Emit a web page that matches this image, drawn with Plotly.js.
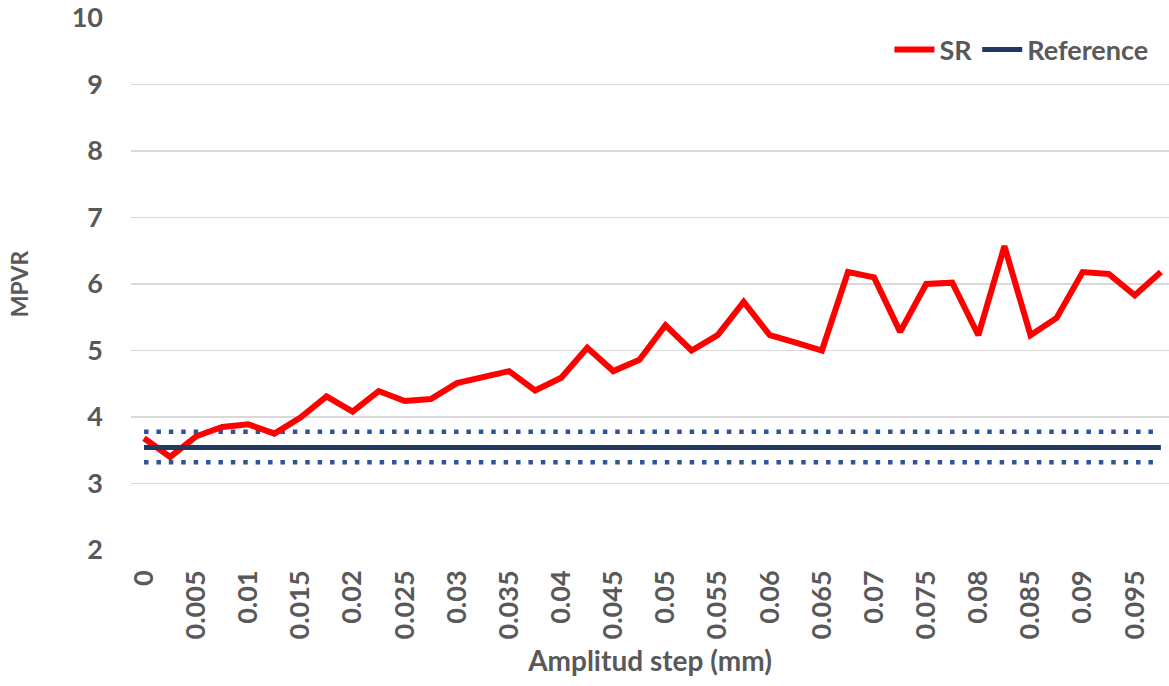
<!DOCTYPE html>
<html>
<head>
<meta charset="utf-8">
<script src="https://cdn.plot.ly/plotly-3.0.1.min.js"></script>
<style>html,body{margin:0;padding:0;background:#fff;}#chart{width:1169px;height:686px;}</style>
</head>
<body>
<div id="chart"></div>
<script>
// Amplitude steps (mm)
var steps = [0, 0.0025, 0.005, 0.0075, 0.01, 0.0125, 0.015, 0.0175, 0.02, 0.0225,
             0.025, 0.0275, 0.03, 0.0325, 0.035, 0.0375, 0.04, 0.0425, 0.045, 0.0475,
             0.05, 0.0525, 0.055, 0.0575, 0.06, 0.0625, 0.065, 0.0675, 0.07, 0.0725,
             0.075, 0.0775, 0.08, 0.0825, 0.085, 0.0875, 0.09, 0.0925, 0.095, 0.0975];
// SR series (MPVR)
var srValues = [3.68, 3.40, 3.71, 3.85, 3.89, 3.75, 3.99, 4.31, 4.08, 4.39,
                4.24, 4.27, 4.51, 4.60, 4.69, 4.40, 4.59, 5.04, 4.69, 4.86,
                5.38, 5.00, 5.23, 5.73, 5.23, 5.12, 5.00, 6.18, 6.10, 5.28,
                6.00, 6.02, 5.23, 6.57, 5.23, 5.49, 6.18, 6.15, 5.83, 6.18];
// Reference level and its band
var refValue = 3.54;
var refUpper = 3.78;
var refLower = 3.32;
// Tick labels
var tickVals = [0, 0.005, 0.01, 0.015, 0.02, 0.025, 0.03, 0.035, 0.04, 0.045,
                0.05, 0.055, 0.06, 0.065, 0.07, 0.075, 0.08, 0.085, 0.09, 0.095];
var tickText = ["0", "0.005", "0.01", "0.015", "0.02", "0.025", "0.03", "0.035", "0.04", "0.045",
                "0.05", "0.055", "0.06", "0.065", "0.07", "0.075", "0.08", "0.085", "0.09", "0.095"];
var yTicks = [2, 3, 4, 5, 6, 7, 8, 9, 10];

var refLine = steps.map(function(){ return refValue; });
var upLine = steps.map(function(){ return refUpper; });
var loLine = steps.map(function(){ return refLower; });

var FONT = "Lato, 'Open Sans', sans-serif";
var GREY = "#595959";

var traces = [
  {x: steps, y: upLine, mode: "lines", showlegend: false, hoverinfo: "skip",
   line: {color: "#2F5597", width: 4.5, dash: "4.5px,7.9px"}},
  {x: steps, y: loLine, mode: "lines", showlegend: false, hoverinfo: "skip",
   line: {color: "#2F5597", width: 4.5, dash: "4.5px,7.9px"}},
  {x: steps, y: srValues, mode: "lines", name: "SR",
   line: {color: "#FF0000", width: 6, shape: "linear"}},
  {x: steps, y: refLine, mode: "lines", name: "Reference",
   line: {color: "#1F3864", width: 5}}
];

var layout = {
  width: 1169, height: 686,
  margin: {l: 131, r: 0, t: 18, b: 136, pad: 0},
  paper_bgcolor: "#ffffff", plot_bgcolor: "#ffffff",
  font: {family: FONT, color: GREY, size: 27, weight: "bold"},
  showlegend: true,
  legend: {orientation: "h", x: 0.985, xanchor: "right", y: 0.94, yanchor: "middle",
           font: {family: FONT, size: 27, color: GREY, weight: "bold"},
           bgcolor: "rgba(0,0,0,0)", traceorder: "normal", itemwidth: 40},
  xaxis: {
    range: [-0.00125, 0.09828],
    tickmode: "array", tickvals: tickVals, ticktext: tickText,
    tickangle: -90, ticks: "", showgrid: false, zeroline: false, showline: false,
    tickfont: {family: FONT, size: 27, color: GREY, weight: "bold"},
    ticklabelstandoff: 14,
    title: {text: "Amplitud step (mm)", font: {family: FONT, size: 28, color: GREY, weight: "bold"}, standoff: 12},
    fixedrange: true
  },
  yaxis: {
    range: [2, 10],
    tickmode: "array", tickvals: yTicks,
    ticks: "", showgrid: true, gridcolor: "#D9D9D9", gridwidth: 1.5,
    zeroline: false, showline: false,
    tickfont: {family: FONT, size: 27, color: GREY, weight: "bold"},
    ticklabelstandoff: 27,
    title: {text: "MPVR", font: {family: FONT, size: 23, color: GREY, weight: "bold"}, standoff: 36},
    fixedrange: true
  }
};

Plotly.newPlot("chart", traces, layout, {displayModeBar: false, staticPlot: true});
</script>
</body>
</html>
